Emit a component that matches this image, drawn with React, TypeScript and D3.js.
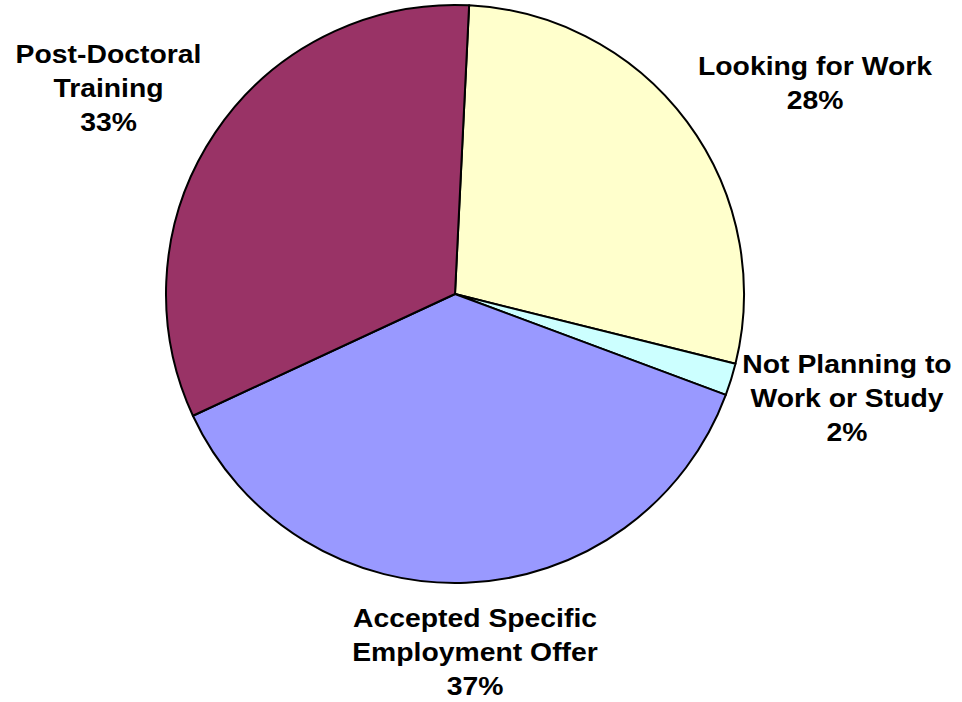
import React from "react";
import * as d3 from "d3";

const categories = [
  "Looking for Work",
  "Not Planning to Work or Study",
  "Accepted Specific Employment Offer",
  "Post-Doctoral Training",
];
const values = [28.1, 1.8, 37.4, 32.7];
const percentLabels = ["28%", "2%", "37%", "33%"];
const labelLines = [
  ["Looking for Work", "28%"],
  ["Not Planning to", "Work or Study", "2%"],
  ["Accepted Specific", "Employment Offer", "37%"],
  ["Post-Doctoral", "Training", "33%"],
];
const colors = ["#FFFFCC", "#CCFFFF", "#9999FF", "#993366"];

const W = 962;
const H = 702;
const cx = 455;
const cy = 294;
const R = 289;
const startDeg = 2.8;

// label anchor positions (center x, first baseline y)
const labelPos = [
  { x: 815, y: 75.5 },
  { x: 847, y: 373 },
  { x: 475, y: 627 },
  { x: 108.5, y: 63.5 },
];
const lineGap = 34;

export default function App() {
  const pie = d3
    .pie<number>()
    .sort(null)
    .value((d) => d)
    .startAngle((startDeg * Math.PI) / 180)
    .endAngle((startDeg * Math.PI) / 180 + 2 * Math.PI);
  const arcs = pie(values);
  const arc = d3.arc<d3.PieArcDatum<number>>().innerRadius(0).outerRadius(R);

  return (
    <div style={{ position: "fixed", left: 0, top: 0, width: W, height: H, background: "#fff" }}>
      <svg width={W} height={H} style={{ display: "block" }}>
        <g transform={`translate(${cx},${cy})`}>
          {arcs.map((a, i) => (
            <path
              key={categories[i]}
              d={arc(a) || ""}
              fill={colors[i]}
              stroke="#000"
              strokeWidth={2}
              strokeLinejoin="round"
            />
          ))}
        </g>
        {labelLines.map((lines, i) => (
          <g
            key={categories[i] + "-label"}
            transform={`translate(${labelPos[i].x},0) scale(1.09,1)`}
          >
            <text
              textAnchor="middle"
              fontFamily="'Liberation Sans', Arial, sans-serif"
              fontWeight="bold"
              fontSize={26}
              fill="#000"
            >
              {lines.map((t, j) => (
                <tspan key={j} x={0} y={labelPos[i].y + j * lineGap}>
                  {j === lines.length - 1 ? percentLabels[i] : t}
                </tspan>
              ))}
            </text>
          </g>
        ))}
      </svg>
    </div>
  );
}
